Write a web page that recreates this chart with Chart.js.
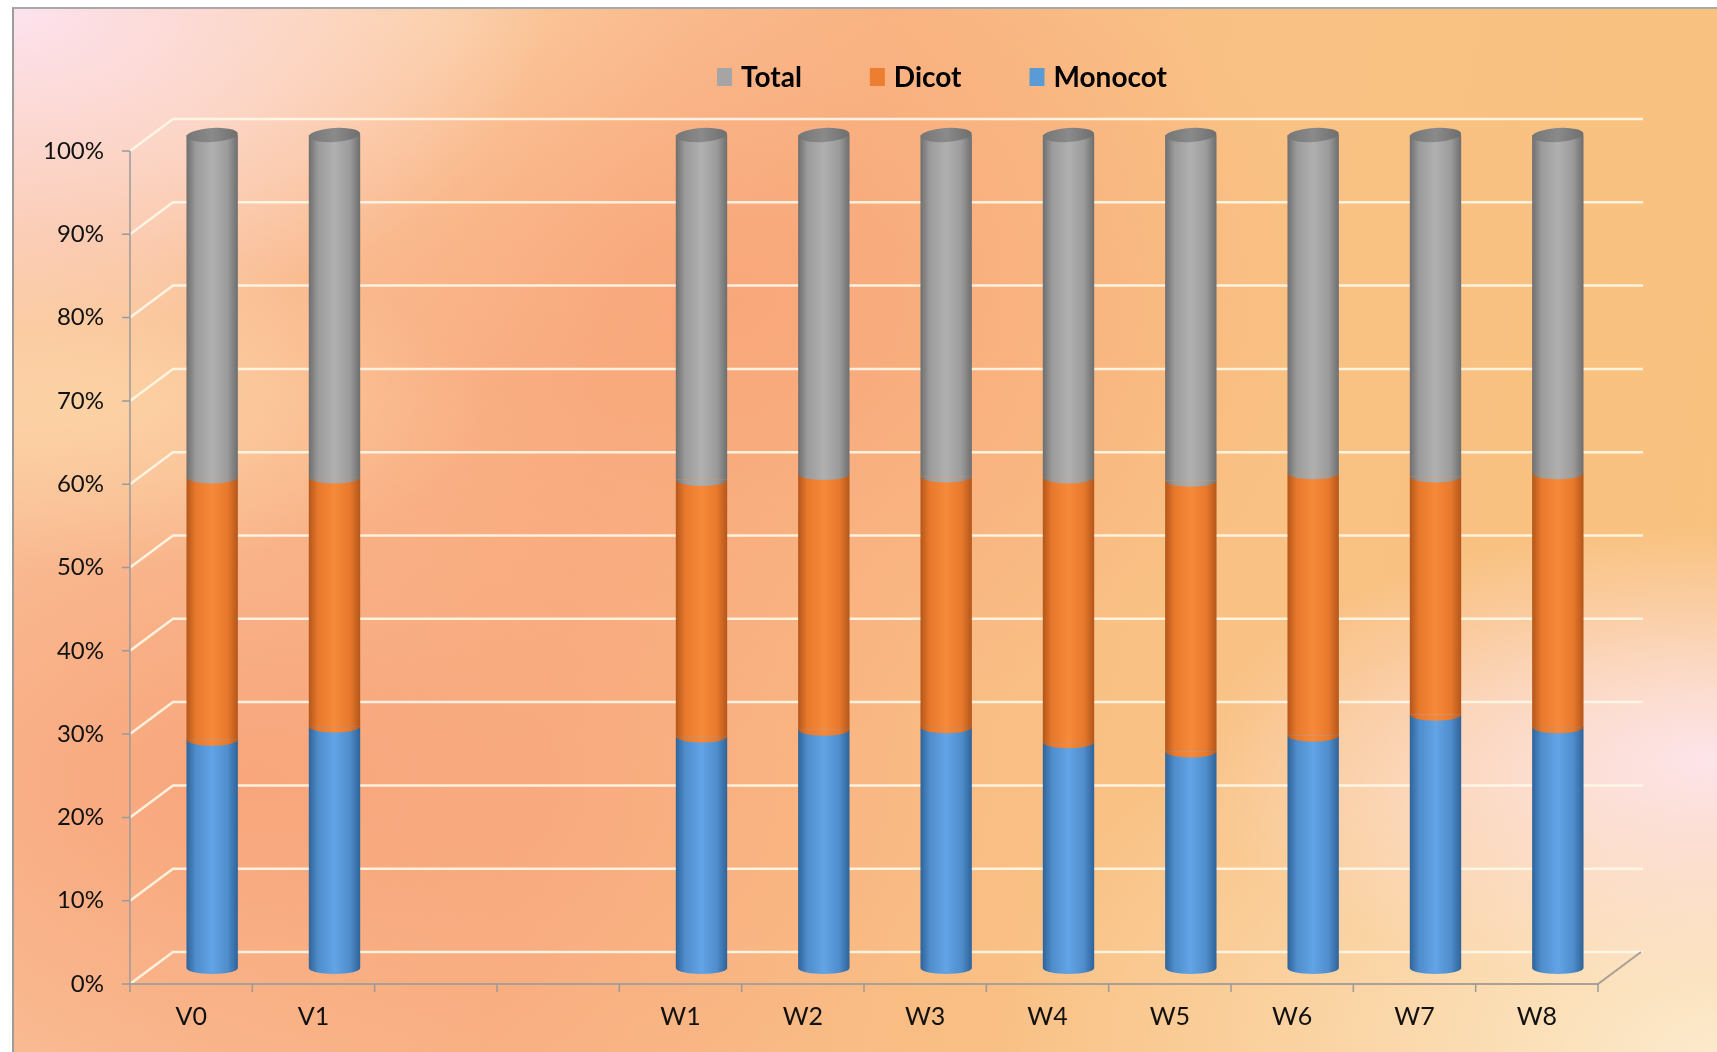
<!DOCTYPE html>
<html lang="en">
<head>
    <meta charset="UTF-8">
    <title>Monocot / Dicot / Total</title>
    <script src="https://cdn.jsdelivr.net/npm/chart.js"></script>
    <style>
        body { margin: 0; background: #fff; }
        #wrap { position: relative; width: 1717px; height: 1052px; overflow: hidden; }
        #bg {
            position: absolute; left: 12px; top: 7px; right: 0; bottom: 0;
            border-left: 2px solid #9c9c9c; border-top: 2px solid #a9a9a9;
            background:
                radial-gradient(ellipse at 0% 0%, rgba(253,226,238,1) 0%, rgba(253,226,238,0) 22%),
                radial-gradient(ellipse at 100% 72%, rgba(253,228,234,1) 0%, rgba(253,228,234,0) 22%),
                radial-gradient(ellipse at 100% 100%, rgba(252,234,204,1) 0%, rgba(252,234,204,0) 30%),
                radial-gradient(ellipse at 3% 38%, rgba(252,212,166,0.9) 0%, rgba(252,212,166,0) 18%),
                radial-gradient(ellipse at 42% 28%, rgba(248,166,122,0.95) 0%, rgba(248,166,122,0) 42%),
                radial-gradient(ellipse at 14% 74%, rgba(248,164,122,0.95) 0%, rgba(248,164,122,0) 36%),
                radial-gradient(ellipse at 25% 2%, rgba(252,214,168,1) 0%, rgba(252,214,168,0) 25%),
                linear-gradient(100deg, #fac6a0 0%, #f9b385 35%, #f9c184 65%, #f9c27e 100%);
        }
        canvas { position: absolute; left: 0; top: 0; }
    </style>
</head>
<body>
<div id="wrap">
    <div id="bg"></div>
    <canvas id="chart" width="1717" height="1052"></canvas>
</div>
<script>
    // data (share of each group, %)
    const categories = ['V0', 'V1', '', '', 'W1', 'W2', 'W3', 'W4', 'W5', 'W6', 'W7', 'W8'];
    const monocot = [27.4, 29.0, null, null, 27.8, 28.6, 28.9, 27.1, 26.0, 27.9, 30.4, 28.9];
    const dicot   = [31.5, 29.9, null, null, 30.8, 30.7, 30.1, 31.8, 32.5, 31.5, 28.6, 30.5];
    const total   = [41.1, 41.1, null, null, 41.4, 40.7, 41.0, 41.1, 41.5, 40.6, 41.0, 40.6];
    const yTicks = [0, 10, 20, 30, 40, 50, 60, 70, 80, 90, 100];

    const FONT = 'Lato, "Open Sans", sans-serif';
    const BAR_PCT = 0.42;
    const DX_F = 21, DX_B = 22, DY = 16; // fake 3D depth offsets

    const shades = {
        blue:   { key: '#5b9bd5', dark: '#2f6399', mid: '#4f8dcc', light: '#62a4e6' },
        orange: { key: '#ed7d31', dark: '#b4561a', mid: '#e8792c', light: '#f7893a' },
        gray:   { key: '#a5a5a5', dark: '#6e6e6e', mid: '#9b9b9b', light: '#b0b0b0' }
    };

    function cylGradient(chart, x, w, s) {
        const g = chart.ctx.createLinearGradient(x - w / 2, 0, x + w / 2, 0);
        g.addColorStop(0, s.dark);
        g.addColorStop(0.18, s.mid);
        g.addColorStop(0.5, s.light);
        g.addColorStop(0.8, s.mid);
        g.addColorStop(1, s.dark);
        return g;
    }

    function barFill(s) {
        return function (ctx) {
            const chart = ctx.chart;
            const xs = chart.scales.x;
            if (!chart.chartArea || !xs || ctx.dataIndex === undefined) return s.key;
            const x = xs.getPixelForValue(ctx.dataIndex);
            const w = (chart.chartArea.width / categories.length) * BAR_PCT;
            return cylGradient(chart, x, w, s);
        };
    }

    // back wall, side wall, floor and axis lines
    const walls = {
        id: 'walls',
        beforeDatasetsDraw(chart) {
            const { ctx, chartArea } = chart;
            const { left, right } = chartArea;
            const y = chart.scales.y;
            const base = y.getPixelForValue(0);
            ctx.save();
            ctx.lineWidth = 2.5;
            ctx.strokeStyle = 'rgba(255,248,232,0.9)';
            yTicks.forEach(v => {
                const py = y.getPixelForValue(v);
                ctx.beginPath();
                ctx.moveTo(left - DX_F, py + DY);
                ctx.lineTo(left + DX_B, py - DY);
                ctx.lineTo(right + DX_B + 2, py - DY);
                ctx.stroke();
            });
            // floor edges
            ctx.strokeStyle = '#ab9f96';
            ctx.lineWidth = 2;
            ctx.beginPath();
            ctx.moveTo(left - DX_F, base + DY);
            ctx.lineTo(right - DX_F, base + DY);
            ctx.lineTo(right + DX_B, base - DY);
            ctx.stroke();
            // y axis line and ticks
            ctx.strokeStyle = '#9a9a9a';
            ctx.lineWidth = 1.5;
            ctx.beginPath();
            ctx.moveTo(left - DX_F, y.getPixelForValue(100) + DY);
            ctx.lineTo(left - DX_F, base + DY);
            yTicks.forEach(v => {
                const py = y.getPixelForValue(v) + DY;
                ctx.moveTo(left - DX_F - 8, py);
                ctx.lineTo(left - DX_F, py);
            });
            // x ticks at category boundaries
            const step = chartArea.width / categories.length;
            for (let i = 0; i <= categories.length; i++) {
                const bx = left + i * step - DX_F;
                ctx.moveTo(bx, base + DY);
                ctx.lineTo(bx, base + DY + 8);
            }
            ctx.stroke();
            ctx.restore();
        }
    };

    // elliptical caps so the stacks read as cylinders
    const caps = {
        id: 'caps',
        afterDatasetsDraw(chart) {
            const { ctx } = chart;
            const sets = [shades.blue, shades.orange, shades.gray];
            const ry = 6;
            ctx.save();
            for (let i = 0; i < categories.length; i++) {
                sets.forEach((s, d) => {
                    const el = chart.getDatasetMeta(d).data[i];
                    const raw = chart.data.datasets[d].data[i];
                    if (!el || raw === null) return;
                    const rx = el.width / 2;
                    ctx.fillStyle = cylGradient(chart, el.x, el.width, s);
                    ctx.beginPath();
                    ctx.ellipse(el.x, el.base, rx, ry, 0, 0, Math.PI);
                    ctx.fill();
                    if (d === sets.length - 1) {
                        const g = ctx.createLinearGradient(el.x - rx, 0, el.x + rx, 0);
                        g.addColorStop(0, '#767676');
                        g.addColorStop(0.5, '#8a8a8a');
                        g.addColorStop(1, '#6e6e6e');
                        ctx.fillStyle = g;
                        ctx.beginPath();
                        ctx.ellipse(el.x, el.y, rx, ry + 1, -0.06, 0, Math.PI * 2);
                        ctx.fill();
                    }
                });
            }
            ctx.restore();
        }
    };

    // legend drawn by hand: Total, Dicot, Monocot
    const legendTop = {
        id: 'legendTop',
        afterDraw(chart) {
            const { ctx, chartArea } = chart;
            const items = chart.data.datasets.slice().reverse();
            ctx.save();
            ctx.font = 'bold 28px ' + FONT;
            ctx.textBaseline = 'middle';
            const box = 15, gap = 9, spacing = 68;
            const widths = items.map(d => box + gap + ctx.measureText(d.label).width);
            const totalW = widths.reduce((a, b) => a + b, 0) + spacing * (items.length - 1);
            let x = (chartArea.left + chartArea.right) / 2 + 57 - totalW / 2;
            const cy = 77;
            items.forEach((d, k) => {
                ctx.fillStyle = d.legendColor;
                ctx.fillRect(x, cy - 9, box, 18);
                ctx.fillStyle = '#000';
                ctx.fillText(d.label, x + box + gap, cy + 1);
                x += widths[k] + spacing;
            });
            ctx.restore();
        }
    };

    new Chart(document.getElementById('chart'), {
        type: 'bar',
        data: {
            labels: categories,
            datasets: [
                { label: 'Monocot', data: monocot, backgroundColor: barFill(shades.blue), legendColor: shades.blue.key },
                { label: 'Dicot', data: dicot, backgroundColor: barFill(shades.orange), legendColor: shades.orange.key },
                { label: 'Total', data: total, backgroundColor: barFill(shades.gray), legendColor: shades.gray.key }
            ]
        },
        options: {
            responsive: false,
            animation: false,
            borderWidth: 0,
            datasets: { bar: { barPercentage: BAR_PCT, categoryPercentage: 1 } },
            layout: { padding: { top: 135, right: 98, left: 0, bottom: 0 } },
            plugins: { legend: { display: false }, tooltip: { enabled: false } },
            scales: {
                x: {
                    stacked: true,
                    grid: { display: false, drawTicks: false },
                    border: { display: false },
                    ticks: { color: '#111', font: { family: FONT, size: 25 }, padding: 34, labelOffset: -DX_F },
                    afterFit(s) { s.height = 84; }
                },
                y: {
                    stacked: true,
                    min: 0,
                    max: 100,
                    grid: { display: false, drawTicks: false },
                    border: { display: false },
                    ticks: {
                        stepSize: 10,
                        color: '#111',
                        font: { family: FONT, size: 24 },
                        padding: 47,
                        labelOffset: DY,
                        callback: v => v + '%'
                    },
                    afterFit(s) { s.width = 151; }
                }
            }
        },
        plugins: [walls, caps, legendTop]
    });
</script>
</body>
</html>
